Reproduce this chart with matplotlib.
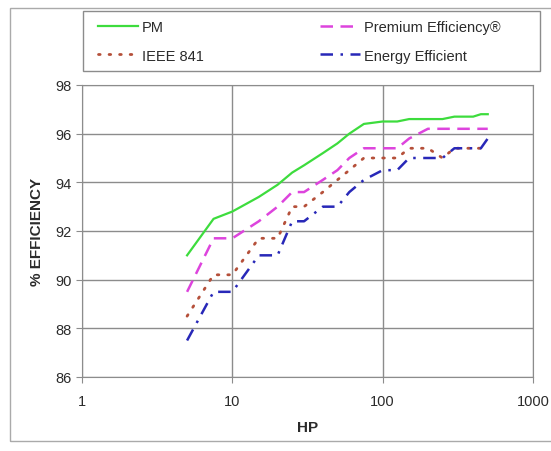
import matplotlib
matplotlib.use("Agg")
import matplotlib.pyplot as plt
from matplotlib.patches import Rectangle

plt.rcParams['font.family'] = ['Liberation Sans', 'DejaVu Sans']

# motor ratings (HP)
hp = [5, 7.5, 10, 15, 20, 25, 30, 40, 50, 60, 75, 100, 125, 150,
      200, 250, 300, 350, 400, 450, 500]

# full-load efficiency (%)
pm = [91.0, 92.5, 92.8, 93.4, 93.9, 94.4, 94.7, 95.2, 95.6, 96.0, 96.4,
      96.5, 96.5, 96.6, 96.6, 96.6, 96.7, 96.7, 96.7, 96.8, 96.8]
premium = [89.5, 91.7, 91.7, 92.4, 93.0, 93.6, 93.6, 94.1, 94.5, 95.0, 95.4,
           95.4, 95.4, 95.8, 96.2, 96.2, 96.2, 96.2, 96.2, 96.2, 96.2]
ieee841 = [88.5, 90.2, 90.2, 91.7, 91.7, 93.0, 93.0, 93.6, 94.1, 94.5, 95.0,
           95.0, 95.0, 95.4, 95.4, 95.0, 95.4, 95.4, 95.4, 95.4, 95.4]
energy_eff = [87.5, 89.5, 89.5, 91.0, 91.0, 92.4, 92.4, 93.0, 93.0, 93.6, 94.1,
              94.5, 94.5, 95.0, 95.0, 95.0, 95.4, 95.4, 95.4, 95.4, 95.8]

GRAY = '#8c8c8c'
TXT = '#2b2b2b'

fig = plt.figure(figsize=(5.51, 4.52), dpi=100)
W, H = 551, 452
ax = fig.add_axes([82 / W, 1 - 378 / H, (533 - 82) / W, (378 - 86) / H])

l_pm, = ax.plot(hp, pm, color='#3ddc3d', lw=1.6, label='PM')
l_pr, = ax.plot(hp, premium, color='#dd44dd', lw=1.8, dashes=(5, 3),
                label='Premium Efficiency®')
l_ie, = ax.plot(hp, ieee841, color='#b5503a', lw=2.0, dashes=(0.6, 3.2),
                dash_capstyle='round', label='IEEE 841')
l_ee, = ax.plot(hp, energy_eff, color='#2828b8', lw=1.8, dashes=(5, 3, 1, 3),
                label='Energy Efficient')

ax.set_xscale('log')
ax.set_xlim(1, 1000)
ax.set_ylim(86, 98)
ax.set_yticks([86, 88, 90, 92, 94, 96, 98])
ax.set_xticks([1, 10, 100, 1000])
ax.set_xticklabels(['1', '10', '100', '1000'])
ax.minorticks_off()
ax.grid(True, color=GRAY, lw=1.0)
for s in ax.spines.values():
    s.set_color(GRAY)
ax.tick_params(colors=GRAY, labelcolor=TXT, labelsize=10.5,
               length=4, direction='out')
ax.tick_params(axis='x', pad=8)

ax.set_xlabel('HP', fontsize=11, fontweight='bold', color=TXT, labelpad=9)
ax.set_ylabel('% EFFICIENCY', fontsize=11, fontweight='bold', color=TXT,
              labelpad=8)

# legend: PM / Premium on the first row, IEEE 841 / Energy Efficient on the second
leg = fig.legend([l_pm, l_ie, l_pr, l_ee],
                 ['PM', 'IEEE 841', 'Premium Efficiency®', 'Energy Efficient'],
                 loc='upper left', bbox_to_anchor=(98 / W, 1 - 21 / H),
                 ncol=2, fontsize=10.5, frameon=False, handlelength=2.75,
                 handletextpad=0.25, borderpad=0, borderaxespad=0,
                 labelspacing=1.0, columnspacing=8.0)
for t in leg.get_texts():
    t.set_color(TXT)

# legend frame
fig.patches.append(Rectangle((83 / W, 1 - 72 / H), (540 - 83) / W, (72 - 12) / H,
                             transform=fig.transFigure, fill=False,
                             edgecolor=GRAY, lw=1.0))
# outer chart border
fig.patches.append(Rectangle((10 / W, 1 - 442 / H), (W + 20) / W, (442 - 9) / H,
                             transform=fig.transFigure, fill=False,
                             edgecolor='#aaaaaa', lw=1.0))

fig.savefig('out.png', dpi=100)
